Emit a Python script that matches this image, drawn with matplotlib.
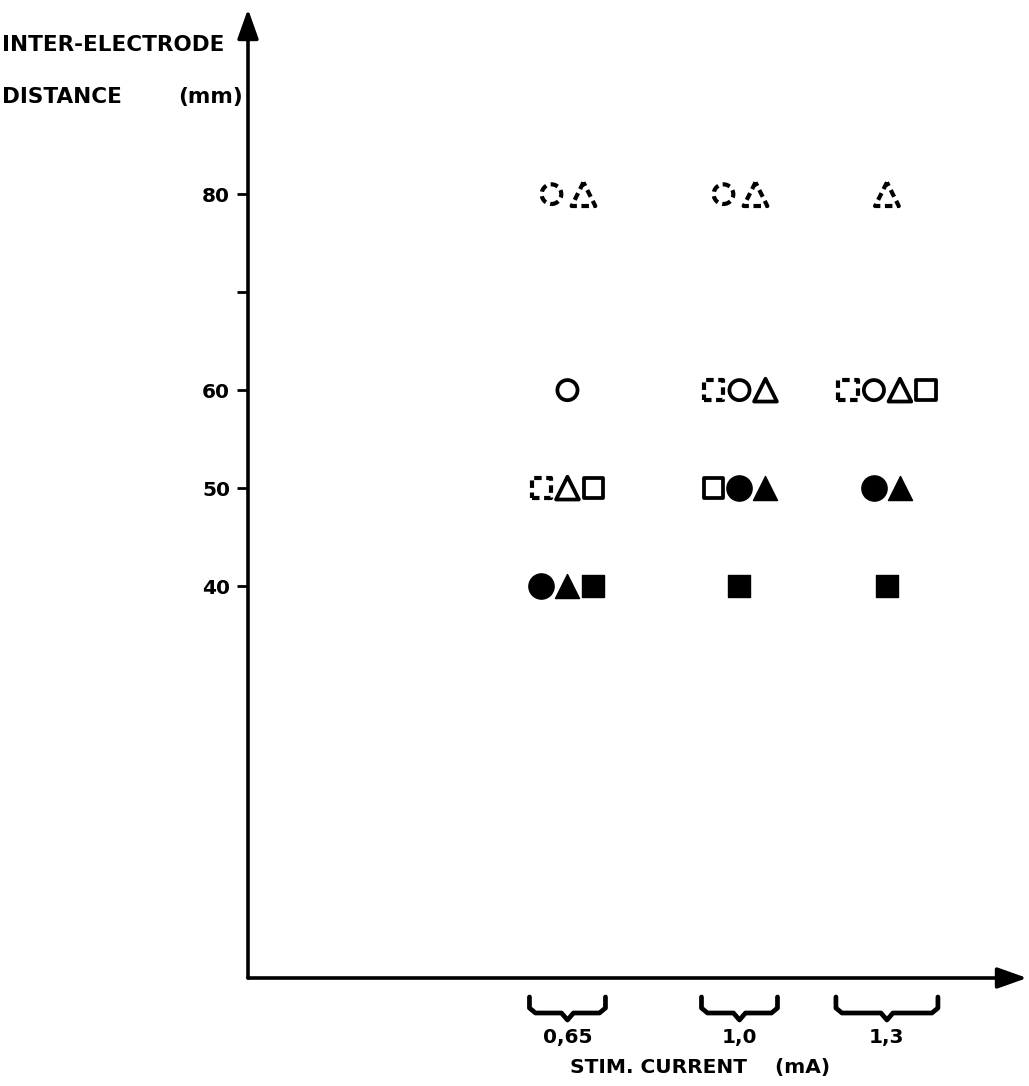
import matplotlib
matplotlib.use("Agg")
import matplotlib.pyplot as plt
import matplotlib.transforms as mtransforms

# stimulation currents (mA) and their labels
currents = [0.65, 1.0, 1.3]
current_labels = ["0,65", "1,0", "1,3"]

# y ticks (mm)
y_ticks = [40, 50, 60, 70, 80]
y_tick_labels = ["40", "50", "60", "", "80"]

# one entry per symbol, in left-to-right order inside each cell
pt_current = [0.65, 0.65,
              0.65,
              0.65, 0.65, 0.65,
              0.65, 0.65, 0.65,
              1.0, 1.0,
              1.0, 1.0, 1.0,
              1.0, 1.0, 1.0,
              1.0,
              1.3,
              1.3, 1.3, 1.3, 1.3,
              1.3, 1.3,
              1.3]
pt_distance = [80, 80,
               60,
               50, 50, 50,
               40, 40, 40,
               80, 80,
               60, 60, 60,
               50, 50, 50,
               40,
               80,
               60, 60, 60, 60,
               50, 50,
               40]
pt_symbol = ["o", "^",
             "o",
             "s", "^", "s",
             "o", "^", "s",
             "o", "^",
             "s", "o", "^",
             "s", "o", "^",
             "s",
             "^",
             "s", "o", "^", "s",
             "o", "^",
             "s"]
pt_style = ["dotted", "dotted",
            "open",
            "dotted", "open", "open",
            "filled", "filled", "filled",
            "dotted", "dotted",
            "dotted", "open", "open",
            "open", "filled", "filled",
            "filled",
            "dotted",
            "dotted", "open", "open", "open",
            "filled", "filled",
            "filled"]

W, H = 1029, 1086
fig = plt.figure(figsize=(W / 100, H / 100), dpi=100)
ax_l, ax_r, ax_b, ax_t = 248, 1027, 978, 9
ax_h = ax_b - ax_t
ax = fig.add_axes([ax_l / W, 1 - ax_b / H, (ax_r - ax_l) / W, ax_h / H])
xmin, xmax = 0.0, 1.585
ymin, ymax = 0.0, 98.9
ax.set_xlim(xmin, xmax)
ax.set_ylim(ymin, ymax)

px_per_x = (ax_r - ax_l) / (xmax - xmin)
SLOT_PX = {80: 32}
DEFAULT_SLOT = 26

# place symbols side by side around the current value
cells = {}
for i, (c, d) in enumerate(zip(pt_current, pt_distance)):
    cells.setdefault((c, d), []).append(i)

xs = [0.0] * len(pt_current)
for (c, d), idx in cells.items():
    n = len(idx)
    step = SLOT_PX.get(d, DEFAULT_SLOT) / px_per_x
    for k, i in enumerate(idx):
        xs[i] = c + (k - (n - 1) / 2) * step

SIZES = {("o", "filled"): 330, ("^", "filled"): 300, ("s", "filled"): 260,
         ("o", "open"): 210, ("^", "open"): 270, ("s", "open"): 200,
         ("o", "dotted"): 200, ("^", "dotted"): 290, ("s", "dotted"): 200}

for i in range(len(xs)):
    m, st = pt_symbol[i], pt_style[i]
    s = SIZES[(m, st)]
    if st == "filled":
        ax.scatter(xs[i], pt_distance[i], marker=m, s=s, c="black",
                   edgecolors="black", linewidths=1, zorder=3)
    elif st == "open":
        ax.scatter(xs[i], pt_distance[i], marker=m, s=s, facecolors="none",
                   edgecolors="black", linewidths=2.7, zorder=3)
    else:
        ax.scatter(xs[i], pt_distance[i], marker=m, s=s, facecolors="none",
                   edgecolors="black", linewidths=3.0,
                   linestyles=(0, (1.8, 1.1)), zorder=3)

# axes with arrowheads
for sp in ax.spines.values():
    sp.set_visible(False)
arrow = dict(arrowstyle="-|>,head_length=0.9,head_width=0.32", lw=2.6,
             color="black", mutation_scale=20, shrinkA=0, shrinkB=0)
ax.annotate("", xy=(0, 1), xytext=(0, 0), xycoords="axes fraction",
            arrowprops=arrow)
ax.annotate("", xy=(1, 0), xytext=(0, 0), xycoords="axes fraction",
            arrowprops=arrow)

ax.set_yticks(y_ticks)
ax.set_yticklabels(y_tick_labels, fontsize=14.5, fontweight="bold")
ax.tick_params(axis="y", direction="out", length=8, width=2, pad=5)
ax.set_xticks([])

# braces under each current group
trans = mtransforms.blended_transform_factory(ax.transData, ax.transAxes)
y_top, y_mid, y_tip = -19 / ax_h, -35 / ax_h, -42 / ax_h
r = 6 / px_per_x
for c, lab in zip(currents, current_labels):
    nmax = max(len(idx) for (cc, d), idx in cells.items() if cc == c)
    half = ((nmax - 1) / 2 * DEFAULT_SLOT + 12) / px_per_x
    x0, x1 = c - half, c + half
    bx = [x0, x0, x0 + r, c - r, c, c + r, x1 - r, x1, x1]
    by = [y_top, y_mid + 5 / ax_h, y_mid, y_mid, y_tip, y_mid, y_mid,
          y_mid + 5 / ax_h, y_top]
    ax.plot(bx, by, color="black", lw=3.4, transform=trans, clip_on=False,
            solid_capstyle="round", solid_joinstyle="round")
    ax.text(c, -59 / ax_h, lab, transform=trans, ha="center", va="center",
            fontsize=14.5, fontweight="bold")

fig.text(700 / W, 1 - 1068 / H, "STIM. CURRENT    (mA)", ha="center",
         va="center", fontsize=14.5, fontweight="bold")
fig.text(2 / W, 1 - 45 / H, "INTER-ELECTRODE", ha="left", va="center",
         fontsize=15.5, fontweight="bold")
fig.text(2 / W, 1 - 97 / H, "DISTANCE", ha="left", va="center",
         fontsize=15.5, fontweight="bold")
fig.text(243 / W, 1 - 97 / H, "(mm)", ha="right", va="center",
         fontsize=15.5, fontweight="bold")

fig.savefig("out.png", dpi=100, facecolor="white")
